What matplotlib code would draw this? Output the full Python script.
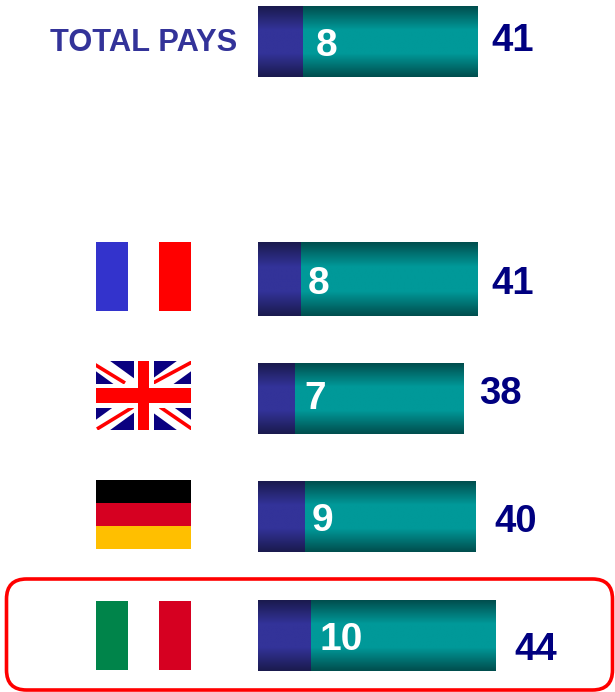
import numpy as np
import matplotlib
matplotlib.use('Agg')
import matplotlib.pyplot as plt
from matplotlib.colors import LinearSegmentedColormap
from matplotlib.patches import FancyBboxPatch, Rectangle

plt.rcParams['font.family'] = ['Liberation Sans', 'DejaVu Sans']

# data, bar lengths
rows = ['TOTAL PAYS', 'France', 'UK', 'Germany', 'Italy']
inner_labels = ['8', '8', '7', '9', '10']
outer_labels = ['41', '41', '38', '40', '44']
inner_len = [8.3, 7.95, 6.85, 8.7, 9.85]
total_len = [40.8, 40.8, 38.2, 40.4, 44.2]

# layout, in pixels of the 615x692 picture
W, H = 615, 692
bar_left = 258
px_per_unit = 5.38
bar_top = [6, 242, 363, 481, 600]
bar_bottom = [77, 316, 434, 552, 671]
inner_xy = [(316, 56), (308, 294), (304, 409), (312, 531), (320, 650)]
outer_xy = [(491, 51), (491, 294), (479, 404), (494, 532), (514, 660)]
flag_x = (96, 191)
flag_y = {'France': (242, 311), 'UK': (361, 430), 'Germany': (480, 549), 'Italy': (601, 670)}

navy_cm = LinearSegmentedColormap.from_list('n', ['#1a1a4d', '#333399', '#333399', '#1a1a4d'])
teal_cm = LinearSegmentedColormap.from_list('t', ['#004d4d', '#009999', '#009999', '#004d4d'])
grad = np.linspace(0, 1, 256).reshape(-1, 1)

fig = plt.figure(figsize=(W / 100, H / 100), dpi=100)

ax = fig.add_axes([bar_left / W, 0, (W - bar_left) / W, 1])
ax.axis('off')
xmax = (W - bar_left) / px_per_unit


def fill_bars(lefts, widths, cmap):
    bars = ax.barh(np.add(bar_top, bar_bottom) / 2, widths, left=lefts,
                   height=np.subtract(bar_bottom, bar_top), color='none', linewidth=0)
    for b in bars:
        im = ax.imshow(grad, cmap=cmap, aspect='auto', interpolation='bilinear',
                       extent=(b.get_x(), b.get_x() + b.get_width(),
                               b.get_y() + b.get_height(), b.get_y()))
        im.set_clip_path(b)


fill_bars(inner_len, np.subtract(total_len, inner_len), teal_cm)
fill_bars([0] * len(rows), inner_len, navy_cm)
ax.set_xlim(0, xmax)
ax.set_ylim(H, 0)

# overlay in pixel coords for flags and text
ov = fig.add_axes([0, 0, 1, 1])
ov.set_xlim(0, W)
ov.set_ylim(H, 0)
ov.axis('off')
ov.patch.set_alpha(0)


def bands(x0, x1, y0, y1, colors, vertical):
    n = len(colors)
    for i, c in enumerate(colors):
        if vertical:
            w = (x1 - x0) / n
            ov.add_patch(Rectangle((x0 + i * w, y0), w, y1 - y0, fc=c, lw=0))
        else:
            h = (y1 - y0) / n
            ov.add_patch(Rectangle((x0, y0 + i * h), x1 - x0, h, fc=c, lw=0))


def union_jack(x0, x1, y0, y1):
    xm, ym = (x0 + x1) / 2, (y0 + y1) / 2
    bg = Rectangle((x0, y0), x1 - x0, y1 - y0, fc='#0a0080', lw=0, zorder=3)
    ov.add_patch(bg)
    for a, b in [((x0, y0), (x1, y1)), ((x0, y1), (x1, y0))]:
        ln, = ov.plot([a[0], b[0]], [a[1], b[1]], color='white', lw=12,
                      solid_capstyle='butt', zorder=4)
        ln.set_clip_path(bg)
    # red diagonals, offset pinwheel style
    for a, b in [((x0 - 2, y0 + 3), (125, 383)), ((x1 + 1, y0 + 1), (153, 383)),
                 ((x0 + 1, y1 - 1), (133, 407)), ((x1 + 1, y1 - 1), (160, 407))]:
        ln, = ov.plot([a[0], b[0]], [a[1], b[1]], color='red', lw=2.6,
                      solid_capstyle='butt', zorder=5)
        ln.set_clip_path(bg)
    ov.add_patch(Rectangle((xm - 10, y0), 20, y1 - y0, fc='white', lw=0, zorder=6))
    ov.add_patch(Rectangle((x0, ym - 12), x1 - x0, 24, fc='white', lw=0, zorder=6))
    ov.add_patch(Rectangle((xm - 5.5, y0), 11, y1 - y0, fc='red', lw=0, zorder=7))
    ov.add_patch(Rectangle((x0, ym - 7.5), x1 - x0, 15, fc='red', lw=0, zorder=7))


bands(*flag_x, *flag_y['France'], ['#3333cc', 'white', '#ff0000'], True)
union_jack(*flag_x, *flag_y['UK'])
bands(*flag_x, *flag_y['Germany'], ['#000000', '#d60021', '#ffbf00'], False)
bands(*flag_x, *flag_y['Italy'], ['#00844a', 'white', '#d60021'], True)

# red rounded frame round Italy
ov.add_patch(FancyBboxPatch((6.5, 579), 606, 111, boxstyle='round,pad=0,rounding_size=20',
                            fc='none', ec='#ff0000', lw=2.6, clip_on=False))

ov.text(50, 51, rows[0], color='#333399', fontsize=22.2, fontweight='bold', va='baseline', ha='left')
for lab, (x, y) in zip(inner_labels, inner_xy):
    ov.text(x, y, lab, color='white', fontsize=28, fontweight='bold', va='baseline', ha='left')
for lab, (x, y) in zip(outer_labels, outer_xy):
    ov.text(x, y, lab, color='#000080', fontsize=27.5, fontweight='bold', va='baseline', ha='left')

fig.savefig('out.png', dpi=100, facecolor='white')
